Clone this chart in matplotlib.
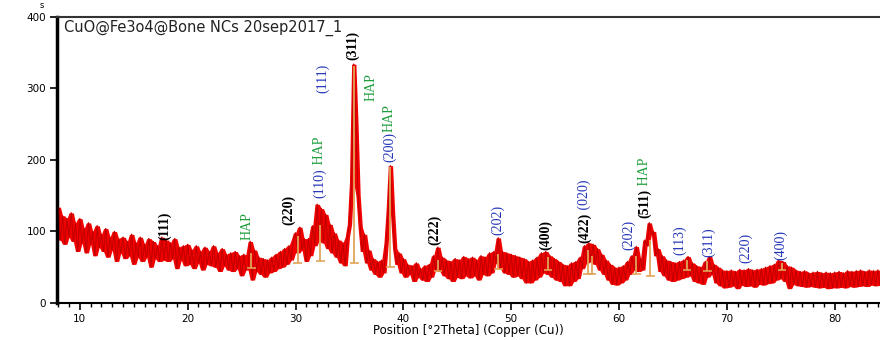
import numpy as np
import pandas as pd
import matplotlib
matplotlib.use("Agg")
import matplotlib.pyplot as plt
from matplotlib.ticker import MultipleLocator

# XRD scan (counts, 0.2 deg steps from 8.0 deg)
scan_start = 8.0
scan_step = 0.2
counts = [
    134, 88, 122, 82, 118, 92, 126, 86, 112, 72,      # 8-10
    118, 84, 104, 70, 112, 82, 100, 66, 108, 78,      # 10-12
    96, 72, 104, 64, 92, 74, 100, 58, 90, 70,         # 12-14
    92, 62, 86, 66, 96, 54, 84, 64, 92, 58,           # 14-16
    82, 64, 90, 50, 86, 62, 80, 58, 92, 60,           # 16-18
    88, 58, 84, 62, 90, 48, 78, 60, 80, 52,           # 18-20
    82, 54, 74, 48, 80, 56, 72, 46, 78, 54,           # 20-22
    72, 52, 80, 50, 70, 44, 76, 52, 68, 46,           # 22-24
    70, 44, 72, 48, 66, 38, 68, 46, 50, 86,           # 24-26
    32, 74, 44, 64, 40, 62, 36, 60, 42, 64,           # 26-28
    44, 68, 48, 72, 50, 76, 54, 80, 60, 88,           # 28-30
    98, 70, 106, 74, 90, 58, 90, 66, 108, 80,         # 30-32
    138, 88, 132, 84, 124, 76, 110, 70, 98, 64,       # 32-34
    88, 56, 84, 52, 92, 110, 168, 334, 250, 150,      # 34-36
    106, 72, 96, 56, 74, 46, 62, 40, 58, 36,          # 36-38
    60, 42, 84, 130, 192, 126, 76, 54, 70, 42,        # 38-40
    62, 36, 54, 40, 52, 30, 56, 36, 48, 32,           # 40-42
    52, 30, 54, 36, 66, 46, 78, 44, 64, 38,           # 42-44
    60, 34, 58, 30, 62, 36, 60, 34, 65, 38,           # 44-46
    62, 35, 64, 38, 60, 32, 66, 40, 64, 38,           # 46-48
    70, 42, 72, 56, 91, 48, 72, 42, 70, 40,           # 48-50
    68, 36, 66, 38, 64, 34, 62, 28, 58, 28,           # 50-52
    60, 32, 64, 36, 70, 42, 72, 40, 66, 36,           # 52-54
    62, 32, 58, 30, 54, 24, 52, 24, 56, 30,           # 54-56
    58, 34, 64, 48, 80, 56, 84, 58, 82, 54,           # 56-58
    76, 46, 68, 40, 60, 32, 54, 26, 50, 25,           # 58-60
    50, 28, 52, 32, 58, 40, 66, 46, 79, 44,           # 60-62
    62, 46, 88, 80, 112, 96, 100, 66, 76, 44,         # 62-64
    66, 38, 60, 32, 58, 30, 56, 32, 58, 34,           # 64-66
    60, 36, 65, 38, 56, 30, 52, 28, 50, 26,           # 66-68
    58, 36, 65, 40, 54, 28, 50, 24, 46, 21,           # 68-70
    45, 22, 46, 24, 44, 20, 47, 25, 46, 23,           # 70-72
    48, 24, 46, 22, 47, 26, 48, 25, 50, 27,           # 72-74
    52, 28, 54, 32, 60, 34, 58, 30, 52, 20,           # 74-76
    50, 26, 46, 24, 44, 23, 45, 22, 42, 23,           # 76-78
    43, 22, 44, 21, 42, 22, 43, 20, 42, 21,           # 78-80
    43, 21, 44, 22, 42, 21, 45, 23, 44, 22,           # 80-82
    45, 23, 46, 24, 44, 23, 46, 25, 45, 24,           # 82-84
    46, 25,
]

# reference pattern sticks
stick_pos = [25.9, 30.2, 32.3, 35.45, 38.8, 43.2, 48.8, 53.4, 57.1, 57.5,
             61.6, 62.9, 66.3, 68.2, 75.1]
stick_top = [70, 93, 109, 332, 190, 60, 68, 64, 74, 66, 66, 88, 60, 58, 56]
stick_base = [49, 56, 58, 56, 50, 44, 48, 46, 40, 40, 40, 38, 46, 44, 46]

# peak labels: position, bottom of text (None = stacked on the previous one), text, colour
label_x = [17.9, 25.5, 29.4, 32.2, 32.2, 32.5, 35.3, 37.0, 38.7, 38.7,
           42.9, 48.7, 53.2, 56.8, 56.8, 60.9, 62.4, 62.4, 65.6, 68.3,
           71.7, 75.0]
label_y = [88, 88, 109, 147, None, 294, 340, 283, 197, None,
           81, 95, 74, 84, None, 74, 119, None, 67, 64,
           56, 60]
label_text = ["(111)", "HAP", "(220)", "(110)", " HAP", "(111)", "(311)", "HAP",
              "(200)", "HAP", "(222)", "(202)", "(400)", "(422)", " (020)",
              "(202)", "(511)", " HAP", "(113)", "(311)", "(220)", "(400)"]
label_kind = ["k", "g", "k", "b", "g", "b", "k", "g", "b", "g", "k", "b", "k",
              "k", "b", "b", "k", "g", "b", "b", "b", "b"]

label_colors = {"k": "black", "b": "#2233B8", "g": "#1E9E3C"}

two_theta = scan_start + scan_step * np.arange(len(counts))
c = pd.Series(counts, dtype=float)
band_lo = c.rolling(3, center=True, min_periods=1).min()
band_hi = c.rolling(3, center=True, min_periods=1).max()

fig = plt.figure(figsize=(8.8, 3.4), dpi=100)
ax = fig.add_axes([0.065, 0.109, 0.935, 0.841])

ax.fill_between(two_theta, band_lo, band_hi, color="#F20000", lw=0, zorder=2)
ax.plot(two_theta, counts, color="#E00000", lw=1.0, zorder=2)
ax.plot(two_theta, counts, color="#9A0000", lw=0.5, alpha=0.55, zorder=3)

stick_col = "#E0A458"
ax.vlines(stick_pos, stick_base, stick_top, color=stick_col, lw=1.3, zorder=4)
ax.hlines(stick_base, np.array(stick_pos) - 0.4, np.array(stick_pos) + 0.4,
          color=stick_col, lw=1.2, zorder=4)

prev = None
for x, y, t, k in zip(label_x, label_y, label_text, label_kind):
    style = dict(rotation=90, ha="center", va="bottom", color=label_colors[k],
                 family="Liberation Serif", fontsize=10,
                 fontweight="bold" if k == "k" else "normal", zorder=5)
    if y is None:
        prev = ax.annotate(t, xy=(0.5, 1.0), xycoords=prev, **style)
    else:
        prev = ax.text(x, y, t, **style)

ax.set_xlim(7.9, 84.2)
ax.set_ylim(0, 400)
ax.xaxis.set_major_locator(MultipleLocator(10))
ax.xaxis.set_minor_locator(MultipleLocator(1))
ax.yaxis.set_major_locator(MultipleLocator(100))
ax.tick_params(axis="both", which="major", direction="out", length=5,
               width=1.2, labelsize=7.5, pad=3)
ax.tick_params(axis="x", which="minor", direction="out", length=3, width=1.0)

ax.spines["right"].set_visible(False)
ax.spines["left"].set_linewidth(2.5)
ax.spines["bottom"].set_linewidth(1.5)
ax.spines["top"].set_linewidth(1.5)
ax.spines["top"].set_color("#333333")

ax.text(0.008, 0.99, "CuO@Fe3o4@Bone NCs 20sep2017_1", transform=ax.transAxes,
        ha="left", va="top", fontsize=10.5, color="#222222")
ax.set_xlabel("Position [°2Theta] (Copper (Cu))", fontsize=8.5, labelpad=0)
fig.text(42 / 880, 1 - 6 / 340, "s", fontsize=6, ha="center", va="center")

fig.savefig("out.png", dpi=100)
